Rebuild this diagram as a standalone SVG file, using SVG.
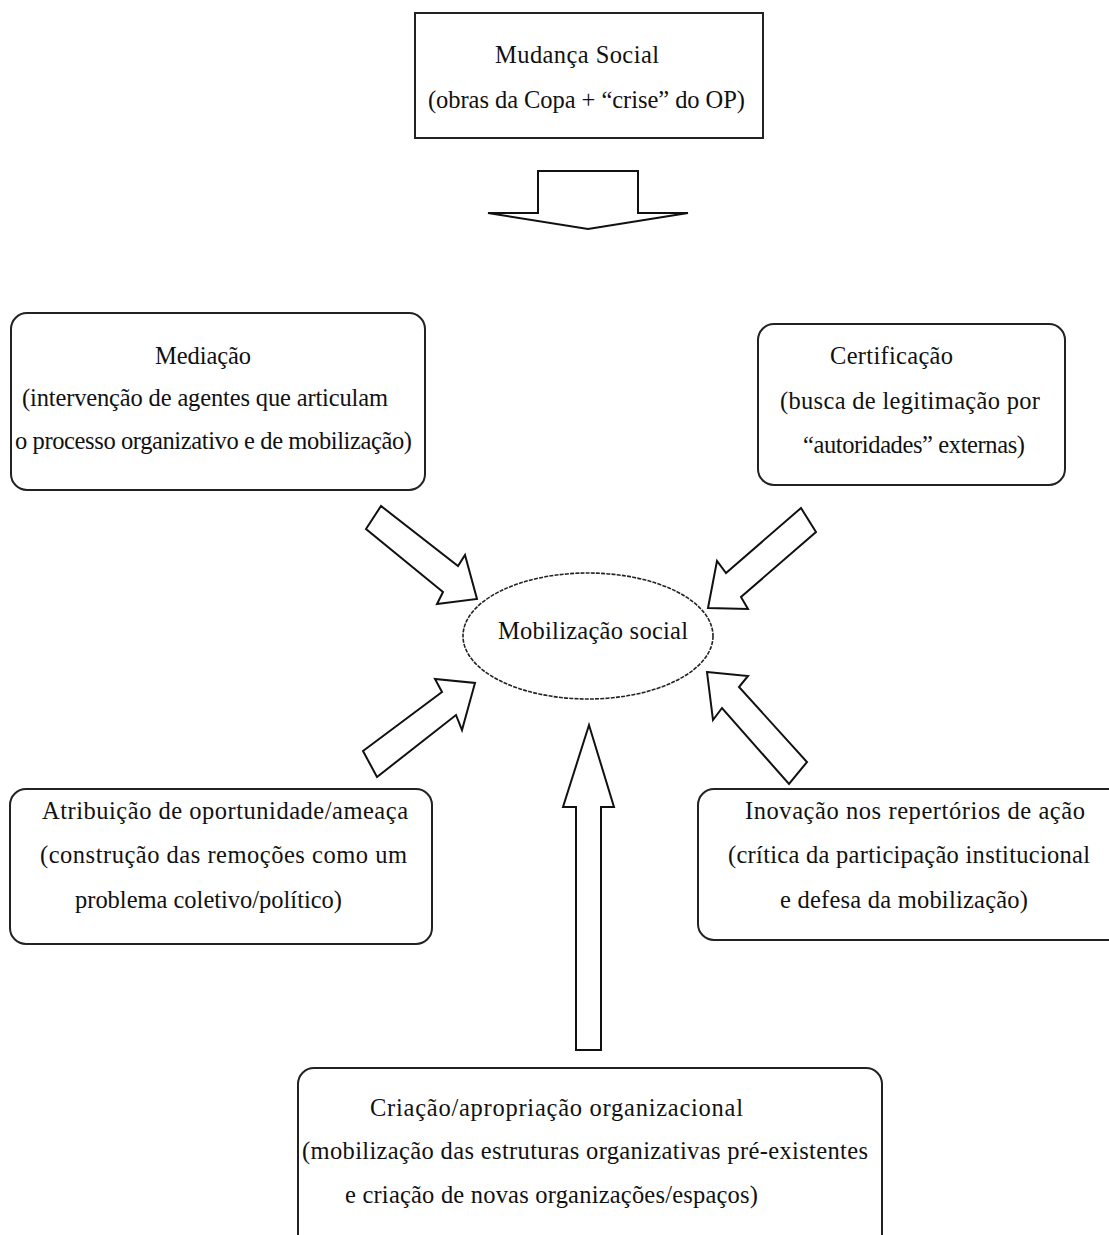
<svg xmlns="http://www.w3.org/2000/svg" width="1109" height="1235" viewBox="0 0 1109 1235">
  <style>
    .box { fill: #fff; stroke: #222; stroke-width: 2; }
    .arrow { fill: #fff; stroke: #111; stroke-width: 2; stroke-linejoin: miter; }
    .oval { fill: #fff; stroke: #222; stroke-width: 1.6; stroke-dasharray: 4 1.2; }
    text { font-family: "Liberation Serif", "DejaVu Serif", serif; font-size: 24.5px; fill: #111; }
  </style>
  <rect width="1109" height="1235" fill="#fff"/>

  <!-- block arrows -->
  <g id="connectors">
    <polygon class="arrow" points="538,171 638,171 638,213 688,213 588,229 488,213 538,213"/>
    <polygon class="arrow" points="366,529 381,506 458,566 465,555 477,599 437,604 443,592"/>
    <polygon class="arrow" points="801,508 816,532 741,597 748,609 708,608 717,561 726,573"/>
    <polygon class="arrow" points="363,751 442,692 435,679 475,683 462,730 456,715 377,777"/>
    <polygon class="arrow" points="707,672 748,676 739,687 807,762 789,784 722,708 713,720"/>
    <polygon class="arrow" points="576,1050 601,1050 601,807 614,807 589,725 563,807 576,807"/>
  </g>

  <g id="mudanca">
    <rect class="box" x="415" y="13" width="348" height="125"/>
    <text x="495" y="63" textLength="164">Mudança Social</text>
    <text x="428" y="108" textLength="317">(obras da Copa + “crise” do OP)</text>
  </g>

  <g id="mediacao">
    <rect class="box" x="11" y="313" width="414" height="177" rx="16"/>
    <text x="155" y="364" textLength="96">Mediação</text>
    <text x="22" y="406" textLength="366">(intervenção de agentes que articulam</text>
    <text x="15" y="449" textLength="397">o processo organizativo e de mobilização)</text>
  </g>

  <g id="certificacao">
    <rect class="box" x="758" y="324" width="307" height="161" rx="16"/>
    <text x="830" y="364" textLength="123">Certificação</text>
    <text x="780" y="409" textLength="260">(busca de legitimação por</text>
    <text x="803" y="453" textLength="222">“autoridades” externas)</text>
  </g>

  <g id="mobilizacao">
    <ellipse class="oval" cx="588" cy="636" rx="125" ry="63"/>
    <text x="498" y="639" textLength="190">Mobilização social</text>
  </g>

  <g id="atribuicao">
    <rect class="box" x="10" y="789" width="422" height="155" rx="16"/>
    <text x="42" y="819" textLength="366">Atribuição de oportunidade/ameaça</text>
    <text x="40" y="863" textLength="367">(construção das remoções como um</text>
    <text x="75" y="908" textLength="267">problema coletivo/político)</text>
  </g>

  <g id="inovacao">
    <rect class="box" x="698" y="789" width="430" height="151" rx="16"/>
    <text x="745" y="819" textLength="340">Inovação nos repertórios de ação</text>
    <text x="728" y="863" textLength="362">(crítica da participação institucional</text>
    <text x="780" y="908" textLength="248">e defesa da mobilização)</text>
  </g>

  <g id="criacao">
    <rect class="box" x="298" y="1068" width="584" height="200" rx="16"/>
    <text x="370" y="1116" textLength="373">Criação/apropriação organizacional</text>
    <text x="302" y="1159" textLength="566">(mobilização das estruturas organizativas pré-existentes</text>
    <text x="345" y="1203" textLength="413">e criação de novas organizações/espaços)</text>
  </g>
</svg>
